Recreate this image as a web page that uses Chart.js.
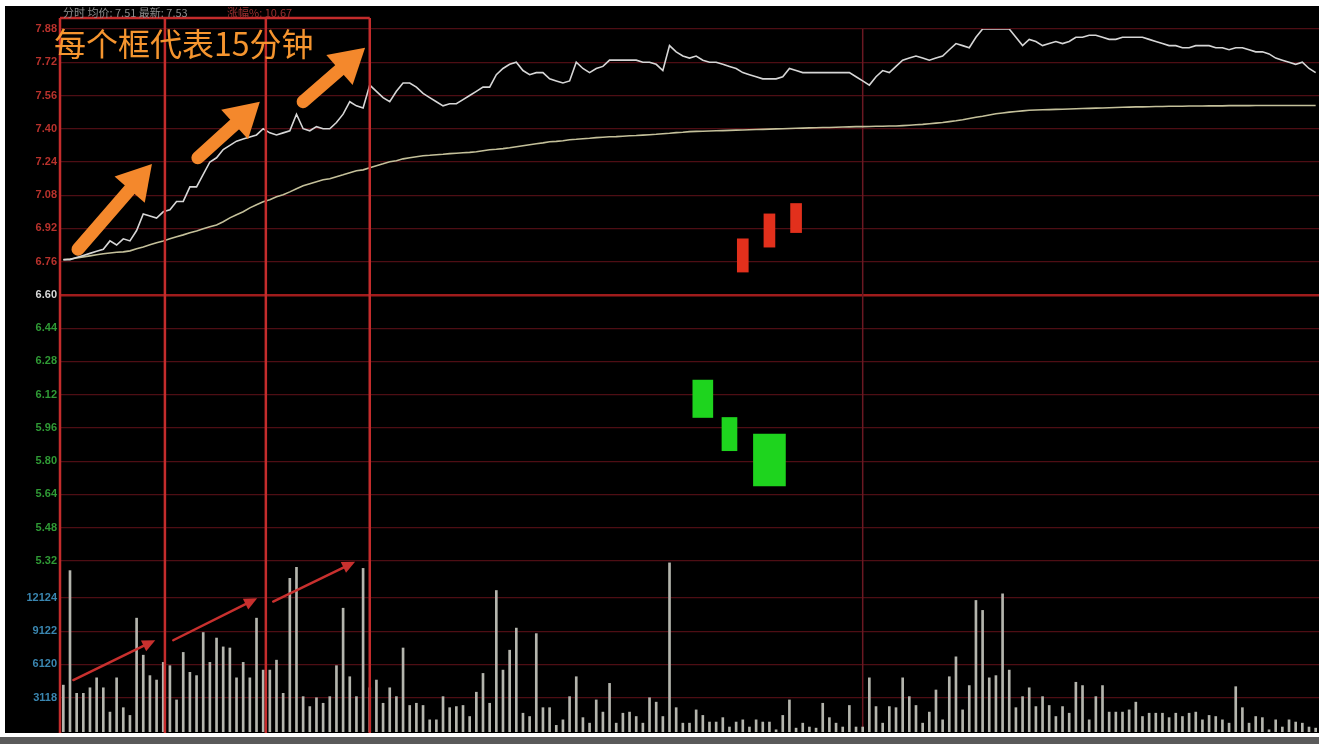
<!DOCTYPE html>
<html>
<head>
<meta charset="utf-8">
<script src="https://cdn.jsdelivr.net/npm/chart.js@4.4.1/dist/chart.umd.min.js"></script>
<style>
html,body{margin:0;padding:0;background:#fff;width:1319px;height:744px;overflow:hidden}
#wrap{position:absolute;left:5px;top:6px;width:1314px;height:727px;background:#000}
#foot{position:absolute;left:0;top:737px;width:1319px;height:7px;background:#5b5b5b}
</style>
</head>
<body>
<div id="wrap"><canvas id="fenshi"></canvas></div>
<div id="foot"></div>
<script>
// 分时价格 (每分钟)
const price = [
  6.77,6.77,6.78,6.79,6.80,6.81,6.82,6.86,6.84,6.87,
  6.86,6.91,6.99,6.98,6.97,7.00,7.01,7.05,7.05,7.12,
  7.12,7.18,7.24,7.26,7.30,7.32,7.34,7.35,7.36,7.37,
  7.40,7.38,7.37,7.38,7.39,7.47,7.40,7.39,7.41,7.40,
  7.40,7.43,7.47,7.53,7.51,7.50,7.61,7.58,7.55,7.53,
  7.58,7.62,7.62,7.60,7.57,7.55,7.53,7.51,7.52,7.52,
  7.54,7.56,7.58,7.60,7.60,7.66,7.69,7.71,7.72,7.68,
  7.66,7.67,7.67,7.64,7.63,7.62,7.63,7.72,7.69,7.67,
  7.69,7.70,7.73,7.73,7.73,7.73,7.73,7.72,7.72,7.71,
  7.68,7.80,7.77,7.75,7.74,7.75,7.73,7.72,7.72,7.71,
  7.70,7.69,7.67,7.66,7.65,7.64,7.64,7.64,7.65,7.69,
  7.68,7.67,7.67,7.67,7.67,7.67,7.67,7.67,7.67,7.65,
  7.63,7.61,7.65,7.68,7.67,7.70,7.73,7.74,7.75,7.74,
  7.73,7.74,7.75,7.78,7.81,7.80,7.79,7.84,7.88,7.88,
  7.88,7.88,7.88,7.84,7.80,7.83,7.82,7.80,7.81,7.82,
  7.81,7.82,7.84,7.84,7.85,7.85,7.84,7.83,7.83,7.84,
  7.84,7.84,7.84,7.83,7.82,7.81,7.80,7.80,7.79,7.79,
  7.80,7.80,7.80,7.79,7.79,7.78,7.79,7.79,7.78,7.77,
  7.77,7.76,7.74,7.73,7.72,7.71,7.72,7.69,7.67
]

// 均价线
const avgPrice = [
  6.769,6.773,6.778,6.783,6.788,6.793,6.798,6.802,6.805,6.807,
  6.812,6.822,6.831,6.841,6.851,6.860,6.870,6.880,6.889,6.899,
  6.908,6.918,6.928,6.937,6.952,6.971,6.986,7.000,7.019,7.034,
  7.048,7.058,7.072,7.082,7.096,7.111,7.125,7.135,7.145,7.154,
  7.159,7.169,7.178,7.188,7.198,7.202,7.212,7.222,7.231,7.241,
  7.246,7.255,7.260,7.265,7.270,7.272,7.275,7.277,7.280,7.282,
  7.284,7.286,7.289,7.294,7.299,7.301,7.304,7.308,7.313,7.318,
  7.323,7.328,7.332,7.337,7.339,7.342,7.347,7.349,7.352,7.354,
  7.357,7.359,7.361,7.362,7.364,7.366,7.367,7.369,7.371,7.373,
  7.376,7.378,7.381,7.383,7.386,7.387,7.388,7.389,7.390,7.391,
  7.392,7.393,7.394,7.395,7.396,7.397,7.398,7.399,7.400,7.401,
  7.402,7.403,7.404,7.405,7.406,7.406,7.407,7.408,7.409,7.410,
  7.410,7.411,7.412,7.412,7.413,7.413,7.415,7.417,7.419,7.421,
  7.424,7.427,7.430,7.434,7.438,7.443,7.449,7.455,7.460,7.466,
  7.472,7.476,7.480,7.483,7.486,7.489,7.490,7.491,7.492,7.493,
  7.494,7.495,7.496,7.497,7.498,7.499,7.500,7.501,7.502,7.503,
  7.504,7.505,7.505,7.506,7.507,7.507,7.508,7.508,7.508,7.509,
  7.509,7.509,7.510,7.510,7.510,7.511,7.511,7.511,7.511,7.512,
  7.512,7.512,7.512,7.512,7.512,7.512,7.512,7.512,7.512
]

// 成交量
const volume = [
  4240,14600,3500,3500,4000,4900,4000,1800,4900,2200,
  1500,10300,6950,5100,4700,6300,6000,2900,7200,5400,
  5100,9000,6300,8500,7700,7600,4900,6300,4900,10300,
  5600,5600,6500,3500,13900,14900,3200,2300,3100,2600,
  3200,6000,11200,5000,3200,14800,4000,4700,2600,4000,
  3200,7600,2400,2600,2400,1100,1100,3200,2200,2300,
  2400,1400,3600,5300,2600,12800,5600,7400,9400,1700,
  1400,8900,2200,2200,600,1100,3200,5000,1300,800,
  2900,1800,4400,800,1700,1800,1400,800,3100,2700,
  1400,15300,2200,800,800,2000,1500,900,900,1300,
  450,900,1100,450,1100,900,900,200,1500,2900,
  350,800,450,350,2600,1300,800,450,2400,450,
  450,4900,2300,800,2300,2200,4900,3200,2400,800,
  1800,3800,1100,5000,6800,2000,4200,11900,11000,4900,
  5100,12500,5600,2200,3200,4000,2300,3200,2400,1400,
  2300,1700,4500,4200,1100,3200,4200,1800,1800,1800,
  2000,2700,1400,1700,1700,1700,1300,1700,1400,1700,
  1800,1100,1500,1400,1100,800,4100,2200,800,1400,
  1300,200,1100,450,1100,900,800,450,350
]

// 纵轴刻度
const priceTicks = [5.32,5.48,5.64,5.80,5.96,6.12,6.28,6.44,6.60,6.76,6.92,7.08,7.24,7.40,7.56,7.72,7.88]
const volTicks = [3118,6120,9122,12124]
const prevClose = 6.60

// 图上叠加的K线块
const redIdx = [102,106,110]
const redLow = [6.71,6.83,6.90]
const redHigh = [6.87,6.99,7.04]
const greenIdx = [96,100,106]
const greenLow = [6.01,5.85,5.68]
const greenHigh = [6.19,6.01,5.93]
const greenBarPx = [20,15,32]

// 标注: 15分钟框 和 箭头 (数据坐标)
const noonIndex = 120
const boxEdges = [-0.5,15.25,30.4,46]
const orangeArrows = [[2.2,6.82,13.3,7.23],[20.2,7.26,29.5,7.53],[36.0,7.53,45.3,7.79]]
const redArrows = [[1.5,4700,13.8,8300],[16.5,8300,29.1,12100],[31.5,11800,43.8,15400]]

const times = []
for (let i = 0; i < price.length; i++) {
  const m = i <= 120 ? 570 + i : 780 + (i - 120)
  times.push(String(Math.floor(m / 60)).padStart(2, '0') + ':' + String(m % 60).padStart(2, '0'))
}

function sparse(idx, lo, hi) {
  const d = times.map(() => null)
  idx.forEach((k, j) => { d[k] = [lo[j], hi[j]] })
  return d
}

function arrow(ctx, x1, y1, x2, y2, shaft, headLen, headW, color) {
  const a = Math.atan2(y2 - y1, x2 - x1)
  const bx = x2 - headLen * Math.cos(a), by = y2 - headLen * Math.sin(a)
  const nx = -Math.sin(a), ny = Math.cos(a)
  ctx.strokeStyle = color
  ctx.fillStyle = color
  ctx.lineWidth = shaft
  ctx.lineCap = 'round'
  ctx.beginPath()
  ctx.moveTo(x1, y1)
  ctx.lineTo(bx + headLen * 0.3 * Math.cos(a), by + headLen * 0.3 * Math.sin(a))
  ctx.stroke()
  ctx.beginPath()
  ctx.moveTo(x2, y2)
  ctx.lineTo(bx + nx * headW / 2, by + ny * headW / 2)
  ctx.lineTo(bx - nx * headW / 2, by - ny * headW / 2)
  ctx.closePath()
  ctx.fill()
}

const overlay = {
  id: 'overlay',
  beforeDatasetsDraw(chart) {
    const { ctx, chartArea, scales } = chart
    const x = scales.x.getPixelForValue(noonIndex)
    ctx.save()
    ctx.strokeStyle = '#6a1822'
    ctx.lineWidth = 1.5
    ctx.beginPath()
    ctx.moveTo(x, chartArea.top)
    ctx.lineTo(x, chartArea.bottom)
    ctx.stroke()
    ctx.restore()
  },
  afterDatasetsDraw(chart) {
    const { ctx, scales, chartArea } = chart
    const sx = scales.x, sy = scales.y, sv = scales.v
    ctx.save()
    // 成交量刻度文字
    ctx.font = 'bold 11px "Liberation Sans"'
    ctx.textAlign = 'right'
    ctx.textBaseline = 'middle'
    ctx.fillStyle = '#3a86b0'
    volTicks.forEach(v => ctx.fillText(String(v), chartArea.left - 3, sv.getPixelForValue(v)))
    ctx.textAlign = 'left'

    // 15分钟框
    ctx.strokeStyle = '#c42c2c'
    ctx.lineWidth = 2.5
    const top = 12, bottom = chart.height
    const xs = boxEdges.map(e => sx.getPixelForValue(e))
    ctx.beginPath()
    xs.forEach(x => { ctx.moveTo(x, top); ctx.lineTo(x, bottom) })
    ctx.moveTo(xs[0], top)
    ctx.lineTo(xs[xs.length - 1], top)
    ctx.stroke()

    redArrows.forEach(a => arrow(ctx, sx.getPixelForValue(a[0]), sv.getPixelForValue(a[1]),
      sx.getPixelForValue(a[2]), sv.getPixelForValue(a[3]), 2.5, 13, 12, '#c8302e'))
    orangeArrows.forEach(a => arrow(ctx, sx.getPixelForValue(a[0]), sy.getPixelForValue(a[1]),
      sx.getPixelForValue(a[2]), sy.getPixelForValue(a[3]), 13, 34, 40, '#f4882c'))

    // 顶部行情文字
    ctx.font = '11px "Noto Sans CJK SC"'
    ctx.textBaseline = 'middle'
    ctx.fillStyle = '#8c8c8c'
    ctx.fillText('分时 均价: 7.51 最新: 7.53', 58, 7)
    ctx.fillStyle = '#9a3030'
    ctx.fillText('涨幅%: 10.67', 222, 7)

    ctx.font = '32px "Noto Sans CJK SC"'
    ctx.textBaseline = 'alphabetic'
    ctx.fillStyle = '#f5952f'
    ctx.fillText('每个框代表15分钟', 49, 50)
    ctx.restore()
  }
}

const datasets = [
  {
    type: 'line', label: '价格', data: price, yAxisID: 'y',
    borderColor: '#d6d6d6', borderWidth: 1.6, pointRadius: 0, tension: 0
  },
  {
    type: 'line', label: '均价', data: avgPrice, yAxisID: 'y',
    borderColor: '#c4c09a', borderWidth: 1.6, pointRadius: 0, tension: 0
  },
  {
    type: 'bar', label: '成交量', data: volume, yAxisID: 'v',
    backgroundColor: '#b4b5ad', barThickness: 2, grouped: false
  },
  {
    type: 'bar', label: '阳', data: sparse(redIdx, redLow, redHigh), yAxisID: 'y',
    backgroundColor: '#e2301c', barThickness: 11, grouped: false
  }
]
greenIdx.forEach((k, j) => {
  datasets.push({
    type: 'bar', label: '阴', data: sparse([k], [greenLow[j]], [greenHigh[j]]), yAxisID: 'y',
    backgroundColor: '#1ed41e', barThickness: greenBarPx[j], grouped: false
  })
})

const gridRed = '#4e0e14'

new Chart(document.querySelector('#fenshi'), {
  type: 'bar',
  data: { labels: times, datasets: datasets },
  options: {
    responsive: true,
    maintainAspectRatio: false,
    animation: false,
    layout: { padding: { top: 23, bottom: 1, right: 0, left: 0 } },
    plugins: { legend: { display: false }, tooltip: { enabled: false } },
    scales: {
      x: { type: 'category', offset: true, display: false },
      y: {
        position: 'left',
        weight: 0,
        min: 4.496, max: 7.88,
        afterBuildTicks: s => { s.ticks = priceTicks.map(v => ({ value: v })) },
        afterFit: s => { s.width = 55; s.paddingTop = 0; s.paddingBottom = 0 },
        border: { display: false },
        grid: {
          drawTicks: false,
          color: c => Math.abs(c.tick.value - prevClose) < 1e-6 ? '#a01c1c' : gridRed,
          lineWidth: c => Math.abs(c.tick.value - prevClose) < 1e-6 ? 2.5 : 1.2
        },
        ticks: {
          padding: 3,
          font: { family: 'Liberation Sans', size: 11, weight: 'bold' },
          color: c => c.tick.value > prevClose + 1e-6 ? '#b8322c' : (c.tick.value < prevClose - 1e-6 ? '#2f9a35' : '#d8d8d8'),
          callback: v => Number(v).toFixed(2)
        }
      },
      v: {
        position: 'left',
        weight: 1,
        min: 0, max: 63600,
        afterBuildTicks: s => { s.ticks = volTicks.map(v => ({ value: v })) },
        afterFit: s => { s.width = 0; s.paddingTop = 0; s.paddingBottom = 0 },
        border: { display: false },
        grid: { drawTicks: false, color: gridRed, lineWidth: 1.2 },
        ticks: { display: false }
      }
    }
  },
  plugins: [overlay]
})
</script>
</body>
</html>
